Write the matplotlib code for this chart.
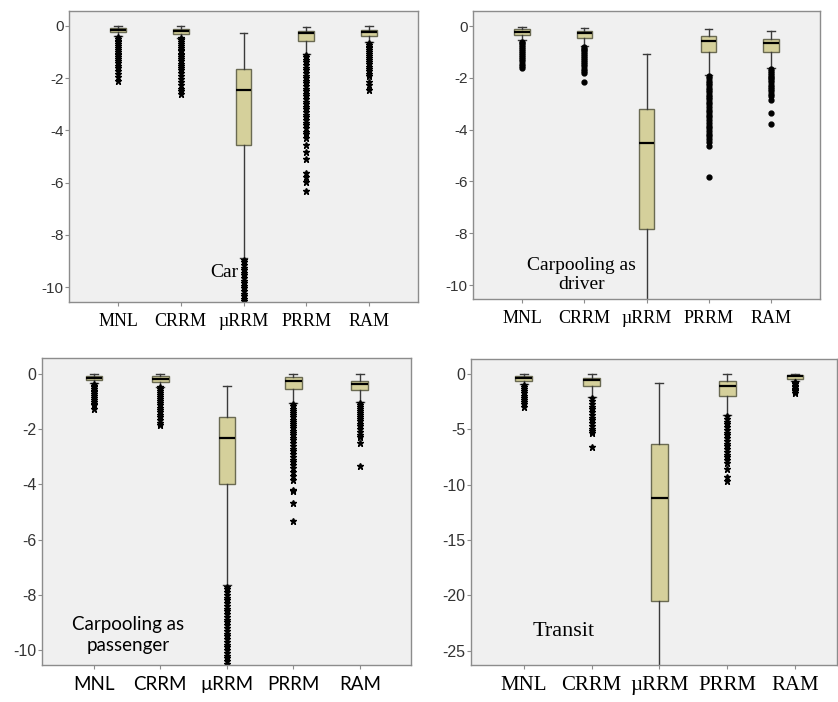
import matplotlib.pyplot as plt

# ============================
# DATA
# ============================

models = ['MNL', 'CRRM', 'µRRM', 'PRRM', 'RAM']

# Car
car_whishi = [-0.01, -0.01, -0.29, -0.04, 0.0]
car_q3 = [-0.09, -0.10, -1.66, -0.19, -0.14]
car_med = [-0.15, -0.20, -2.47, -0.29, -0.24]
car_q1 = [-0.24, -0.31, -4.57, -0.56, -0.37]
car_whislo = [-0.40, -0.46, -8.90, -1.06, -0.61]
car_fliers = [
    [-0.43, -0.49, -0.56, -0.63, -0.70, -0.77, -0.84, -0.92, -0.99, -1.06,
     -1.13, -1.21, -1.28, -1.35, -1.43, -1.52, -1.62, -1.72, -1.83, -1.95, -2.12],
    [-0.48, -0.55, -0.62, -0.69, -0.76, -0.84, -0.91, -0.98, -1.06, -1.13, -1.21,
     -1.28, -1.36, -1.44, -1.52, -1.61, -1.70, -1.81, -1.92, -2.03, -2.15, -2.27,
     -2.40, -2.50, -2.59],
    [-8.95, -9.05, -9.15, -9.25, -9.35, -9.45, -9.55, -9.65, -9.75, -9.85,
     -9.95, -10.05, -10.15, -10.25, -10.35, -10.45, -10.55, -10.65],
    [-1.10, -1.20, -1.30, -1.40, -1.50, -1.60, -1.70, -1.80, -1.90, -2.00, -2.10,
     -2.20, -2.30, -2.40, -2.50, -2.60, -2.70, -2.80, -2.90, -3.00, -3.10, -3.20,
     -3.30, -3.40, -3.50, -3.60, -3.70, -3.80, -3.92, -4.05, -4.14, -4.31, -4.57,
     -4.82, -5.08, -5.63, -5.78, -5.97, -6.33],
    [-0.65, -0.72, -0.79, -0.86, -0.93, -1.00, -1.08, -1.15, -1.23, -1.31, -1.39,
     -1.47, -1.56, -1.65, -1.74, -1.83, -1.90, -2.14, -2.27, -2.46],
]

# Carpooling as driver
drv_whishi = [-0.05, -0.06, -1.09, -0.12, -0.19]
drv_q3 = [-0.13, -0.18, -3.19, -0.40, -0.51]
drv_med = [-0.22, -0.26, -4.53, -0.59, -0.67]
drv_q1 = [-0.33, -0.45, -7.82, -1.02, -0.99]
drv_whislo = [-0.54, -0.77, -11.0, -1.89, -1.63]
drv_fliers = [
    [-0.60, -0.67, -0.74, -0.81, -0.88, -0.95, -1.03, -1.10, -1.18, -1.26,
     -1.35, -1.45, -1.55, -1.63],
    [-0.80, -0.87, -0.94, -1.01, -1.08, -1.15, -1.23, -1.31, -1.39, -1.47,
     -1.56, -1.65, -1.74, -1.80, -2.17],
    [],
    [-1.93, -2.02, -2.11, -2.20, -2.29, -2.38, -2.47, -2.56, -2.65, -2.74, -2.83,
     -2.93, -3.03, -3.13, -3.23, -3.33, -3.43, -3.53, -3.63, -3.73, -3.85, -3.95,
     -4.05, -4.15, -4.25, -4.35, -4.47, -4.62, -5.82],
    [-1.67, -1.74, -1.81, -1.88, -1.95, -2.02, -2.10, -2.18, -2.26, -2.34, -2.43,
     -2.52, -2.62, -2.72, -2.86, -3.37, -3.78],
]

# Carpooling as passenger
psg_whishi = [0.0, -0.01, -0.42, 0.0, 0.0]
psg_q3 = [-0.06, -0.08, -1.55, -0.12, -0.24]
psg_med = [-0.14, -0.17, -2.32, -0.27, -0.36]
psg_q1 = [-0.22, -0.29, -4.00, -0.53, -0.58]
psg_whislo = [-0.34, -0.46, -7.66, -1.06, -1.03]
psg_fliers = [
    [-0.36, -0.42, -0.48, -0.54, -0.60, -0.66, -0.72, -0.79, -0.86, -0.93,
     -1.00, -1.07, -1.12, -1.28],
    [-0.48, -0.55, -0.62, -0.69, -0.76, -0.83, -0.90, -0.98, -1.06, -1.14,
     -1.22, -1.30, -1.38, -1.47, -1.56, -1.66, -1.76, -1.85],
    [-7.70, -7.80, -7.90, -8.00, -8.10, -8.20, -8.30, -8.40, -8.50, -8.60,
     -8.70, -8.80, -8.90, -9.00, -9.10, -9.20, -9.30, -9.40, -9.50, -9.60,
     -9.70, -9.80, -9.90, -10.00, -10.10, -10.20, -10.30, -10.40, -10.50, -10.60],
    [-1.09, -1.17, -1.25, -1.33, -1.41, -1.49, -1.57, -1.65, -1.73, -1.81, -1.89,
     -1.97, -2.05, -2.13, -2.21, -2.30, -2.40, -2.50, -2.60, -2.70, -2.80, -2.90,
     -3.00, -3.10, -3.20, -3.30, -3.42, -3.55, -3.68, -3.84, -4.20, -4.25, -4.66,
     -5.31],
    [-1.06, -1.13, -1.20, -1.27, -1.34, -1.41, -1.48, -1.56, -1.64, -1.72,
     -1.81, -1.90, -2.00, -2.10, -2.20, -2.27, -2.51, -3.33],
]

# Transit
trn_whishi = [0.0, 0.0, -0.78, -0.03, 0.0]
trn_q3 = [-0.18, -0.33, -6.36, -0.66, -0.06]
trn_med = [-0.36, -0.57, -11.17, -1.08, -0.21]
trn_q1 = [-0.60, -1.11, -20.54, -1.96, -0.42]
trn_whislo = [-0.90, -2.10, -27.0, -3.70, -0.60]
trn_fliers = [
    [-0.96, -1.15, -1.35, -1.55, -1.75, -1.95, -2.15, -2.35, -2.55, -2.75, -2.95],
    [-2.20, -2.45, -2.70, -2.95, -3.20, -3.45, -3.70, -3.95, -4.20, -4.45,
     -4.70, -4.95, -5.15, -5.36, -6.57],
    [],
    [-3.80, -4.05, -4.30, -4.55, -4.80, -5.05, -5.30, -5.55, -5.80, -6.05, -6.30,
     -6.55, -6.80, -7.05, -7.30, -7.55, -7.80, -8.07, -8.55, -9.28, -9.67],
    [-0.69, -0.82, -0.95, -1.08, -1.21, -1.34, -1.47, -1.58, -1.69],
]

# ============================
# STYLE
# ============================

box_fill = '#d5d09b'
box_edge = '#6a6a52'
bg = '#f0f0f0'
spine_col = '#8c8c8c'

W, H = 838, 702


def px_axes(fig, l, t, r, b):
    return fig.add_axes([l / W, 1 - b / H, (r - l) / W, (b - t) / H])


def draw_panel(ax, whishi, q3, med, q1, whislo, fliers, ylim, yticks, xlim,
               tick_font, tick_size, ytick_size, marker, msize):
    stats = []
    for i in range(len(models)):
        stats.append({
            'med': med[i], 'q1': q1[i], 'q3': q3[i],
            'whislo': whislo[i], 'whishi': whishi[i],
            'fliers': fliers[i],
        })
    ax.bxp(
        stats,
        positions=range(1, len(models) + 1),
        widths=0.25,
        capwidths=0.12,
        patch_artist=True,
        boxprops=dict(facecolor=box_fill, edgecolor=box_edge, linewidth=1.0),
        medianprops=dict(color='black', linewidth=1.6),
        whiskerprops=dict(color='#3a3a3a', linewidth=1.0),
        capprops=dict(color='#3a3a3a', linewidth=1.0),
        flierprops=dict(marker=marker, markersize=msize, markerfacecolor='black',
                        markeredgecolor='black', linestyle='none'),
    )
    ax.set_facecolor(bg)
    ax.set_ylim(*ylim)
    ax.set_xlim(*xlim)
    ax.set_yticks(yticks)
    ax.set_yticklabels([str(v) for v in yticks], family='Liberation Sans',
                       fontsize=ytick_size, color='#333333')
    ax.set_xticks(range(1, len(models) + 1))
    ax.set_xticklabels(models, family=tick_font, fontsize=tick_size, color='black')
    ax.tick_params(axis='y', length=3, width=0.8, color=spine_col, pad=1)
    ax.tick_params(axis='x', length=3, width=0.8, color=spine_col, pad=5)
    for s in ax.spines.values():
        s.set_color(spine_col)
        s.set_linewidth(1.0)


fig = plt.figure(figsize=(W / 100, H / 100), dpi=100)

# ============================
# CAR
# ============================

ax1 = px_axes(fig, 69, 11, 418, 302)
draw_panel(ax1, car_whishi, car_q3, car_med, car_q1, car_whislo, car_fliers,
           (-10.57, 0.57), [0, -2, -4, -6, -8, -10], (0.22, 5.78),
           'Liberation Serif', 13, 11, '*', 4.5)
ax1.text(2.69, -9.43, 'Car', family='Liberation Serif', fontsize=14,
         ha='center', va='center')

# ============================
# CARPOOLING AS DRIVER
# ============================

ax2 = px_axes(fig, 473, 11, 820, 299)
draw_panel(ax2, drv_whishi, drv_q3, drv_med, drv_q1, drv_whislo, drv_fliers,
           (-10.54, 0.58), [0, -2, -4, -6, -8, -10], (0.21, 5.79),
           'Liberation Serif', 13, 11, 'o', 3.5)
ax2.text(1.95, -9.61, 'Carpooling as\ndriver', family='Liberation Serif',
         fontsize=14, ha='center', va='center', linespacing=1.2)

# ============================
# CARPOOLING AS PASSENGER
# ============================

ax3 = px_axes(fig, 42, 358, 411, 665)
draw_panel(ax3, psg_whishi, psg_q3, psg_med, psg_q1, psg_whislo, psg_fliers,
           (-10.54, 0.58), [0, -2, -4, -6, -8, -10], (0.22, 5.77),
           'Lato', 13.5, 11.5, '*', 4.5)
ax3.text(1.51, -9.46, 'Carpooling as\npassenger', family='Lato',
         fontsize=13.5, ha='center', va='center', linespacing=1.3)

# ============================
# TRANSIT
# ============================

ax4 = px_axes(fig, 471, 359, 837, 665)
draw_panel(ax4, trn_whishi, trn_q3, trn_med, trn_q1, trn_whislo, trn_fliers,
           (-26.3, 1.35), [0, -5, -10, -15, -20, -25], (0.22, 5.62),
           'Liberation Serif', 15, 11.5, '*', 4.5)
ax4.text(1.59, -23.3, 'Transit', family='Liberation Serif', fontsize=16,
         ha='center', va='center')

fig.savefig('out.png', dpi=100, facecolor='white')
